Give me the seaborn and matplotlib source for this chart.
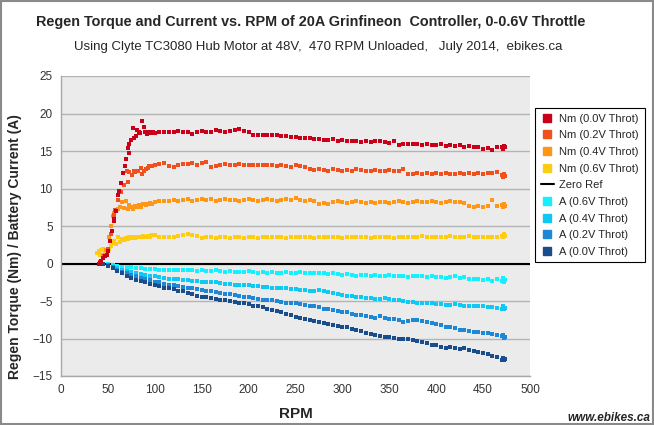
import matplotlib
matplotlib.use("Agg")
import pandas as pd
import matplotlib.pyplot as plt
import seaborn as sns
from matplotlib.lines import Line2D
from matplotlib.patches import Rectangle

# ---- data ----
rpm_grid = list(range(100, 475, 5))      # shared RPM grid for the torque plateaus
rpm_a = list(range(45, 475, 5))          # shared RPM grid for the current series
tail_rpm = [471, 472, 473]               # extra points stacked at the end

nm00_ramp_rpm = [40, 42, 43, 45, 47, 49, 50, 52, 54, 56, 57, 59, 61, 62, 64, 66, 68, 69, 71, 72,
                 73, 75, 77, 78, 80, 81, 83, 84, 86, 88, 90, 92, 94, 96, 98]
nm00_ramp = [0.0, 0.1, 0.3, 0.8, 1.0, 1.2, 1.7, 3.0, 4.4, 5.7, 6.0, 7.0, 9.2, 9.7, 10.8, 12.1, 13.0, 14.0, 15.4, 14.8,
             16.0, 16.5, 18.1, 16.8, 17.0, 17.8, 17.6, 17.4, 19.0, 18.2, 17.6, 17.3, 17.5, 17.4, 17.5]
nm00 = [17.4, 17.6, 17.5, 17.6, 17.5, 17.7, 17.6, 17.5, 17.3, 17.6, 17.7, 17.6, 17.6, 17.8, 17.7, 17.6, 17.7, 17.8, 17.9, 17.7,
        17.6, 17.2, 17.2, 17.1, 17.2, 17.1, 17.1, 17.0, 17.0, 16.9, 16.9, 16.8, 16.8, 16.7, 16.6, 16.6, 16.5, 16.5, 16.6, 16.4,
        16.5, 16.4, 16.3, 16.3, 16.2, 16.3, 16.2, 16.3, 16.4, 16.2, 16.1, 16.3, 15.8, 16.0, 15.9, 15.9, 15.9, 15.8, 15.9, 15.8,
        15.8, 15.9, 15.7, 15.8, 15.7, 15.8, 15.6, 15.7, 15.5, 15.6, 15.3, 15.4, 15.2, 15.5, 15.6]
nm00_tail = [15.3, 15.7, 15.5]

nm02_ramp_rpm = [42, 46, 50, 53, 56, 58, 61, 64, 67, 70, 71, 73, 76, 78, 79, 82, 85, 86, 88, 91, 93, 94, 97]
nm02_ramp = [0.2, 1.0, 2.0, 4.0, 6.5, 7.2, 8.5, 9.6, 10.5, 12.4, 10.9, 12.2, 11.8, 12.3, 12.2, 12.4, 12.8, 12.0, 12.3, 12.6,
             12.7, 13.0, 13.0]
nm02 = [13.1, 13.3, 13.4, 13.0, 12.9, 13.2, 13.3, 13.3, 13.4, 13.2, 13.4, 13.6, 12.9, 13.0, 13.2, 13.3, 13.2, 13.1, 13.3, 13.2,
        13.2, 13.1, 13.2, 13.1, 13.2, 13.1, 13.0, 13.1, 13.0, 12.9, 13.1, 13.0, 12.9, 12.6, 12.5, 12.6, 12.5, 12.4, 12.6, 12.5,
        12.4, 12.5, 12.4, 12.6, 12.5, 12.4, 12.4, 12.5, 12.3, 12.4, 12.5, 12.4, 12.3, 12.6, 12.0, 11.9, 12.1, 12.0, 12.1, 12.0,
        12.1, 12.0, 12.1, 12.0, 12.0, 12.1, 12.0, 12.1, 12.0, 12.1, 12.0, 12.1, 12.1, 12.2, 11.8]
nm02_tail = [11.6, 12.0, 11.7]

nm04_ramp_rpm = [45, 48, 51, 53, 55, 57, 59, 61, 63, 65, 67, 69, 71, 73, 75, 77, 79, 81, 83, 85,
                 87, 89, 91, 93, 95, 97]
nm04_ramp = [1.2, 1.8, 3.5, 5.0, 6.4, 6.8, 7.0, 7.3, 7.6, 8.2, 7.4, 8.4, 7.3, 7.8, 7.5, 7.3, 7.7, 7.6, 7.8, 7.5,
             7.9, 8.0, 7.8, 8.0, 8.1, 8.0]
nm04 = [8.2, 8.3, 8.4, 8.3, 8.5, 8.4, 8.5, 8.6, 8.4, 8.5, 8.6, 8.5, 8.6, 8.4, 8.5, 8.6, 8.5, 8.5, 8.4, 8.5,
        8.6, 8.5, 8.4, 8.5, 8.6, 8.5, 8.4, 8.5, 8.6, 8.5, 8.7, 8.5, 8.4, 8.5, 8.3, 7.9, 8.1, 8.0, 8.2, 8.3,
        8.2, 8.1, 8.2, 8.3, 8.2, 8.1, 8.2, 8.1, 8.2, 8.2, 8.1, 8.2, 8.3, 8.2, 8.1, 8.2, 8.3, 8.2, 8.2, 8.3,
        8.2, 8.1, 8.2, 8.3, 8.2, 8.2, 8.1, 7.7, 7.6, 7.7, 7.6, 7.7, 8.5, 7.7, 7.8]
nm04_tail = [7.6, 7.9, 7.7]

nm06_ramp_rpm = [38, 40, 42, 43, 45, 47, 49, 51, 53, 55, 57, 59, 61, 63, 65, 67, 69, 71, 73, 75,
                 77, 79, 81, 83, 85, 87, 89, 91, 93, 95, 97]
nm06_ramp = [1.4, 1.7, 1.2, 1.8, 2.0, 1.5, 1.8, 2.0, 2.4, 2.7, 3.0, 2.6, 3.5, 2.9, 3.3, 3.1, 3.4, 3.3, 3.5, 3.4,
             3.6, 3.4, 3.5, 3.6, 3.5, 3.7, 3.5, 3.6, 3.7, 3.6, 3.8]
nm06 = [3.8, 3.6, 3.5, 3.6, 3.6, 3.7, 3.8, 3.9, 3.8, 3.7, 3.4, 3.5, 3.5, 3.4, 3.5, 3.5, 3.4, 3.5, 3.5, 3.4,
        3.5, 3.5, 3.4, 3.5, 3.5, 3.6, 3.5, 3.5, 3.4, 3.5, 3.5, 3.6, 3.5, 3.5, 3.4, 3.5, 3.6, 3.5, 3.5, 3.5,
        3.4, 3.5, 3.5, 3.6, 3.5, 3.5, 3.4, 3.5, 3.6, 3.6, 3.5, 3.4, 3.6, 3.5, 3.6, 3.6, 3.5, 3.7, 3.6, 3.5,
        3.6, 3.5, 3.6, 3.7, 3.6, 3.5, 3.6, 3.7, 3.6, 3.5, 3.6, 3.6, 3.5, 3.6, 3.7]
nm06_tail = [3.5, 3.9, 3.7]

a00 = [0.0, -0.3, -0.6, -1.0, -1.3, -1.6, -1.9, -2.2, -2.3, -2.5,
       -2.7, -2.9, -3.0, -3.2, -3.3, -3.4, -3.6, -3.7, -3.9, -4.0,
       -4.3, -4.4, -4.5, -4.6, -4.7, -4.8, -4.9, -5.0, -5.1, -5.2,
       -5.3, -5.4, -5.6, -5.7, -5.8, -6.0, -6.2, -6.3, -6.5, -6.7,
       -6.9, -7.1, -7.2, -7.4, -7.5, -7.6, -7.8, -7.9, -8.0, -8.2,
       -8.3, -8.4, -8.5, -8.7, -8.8, -9.0, -9.2, -9.4, -9.5, -9.6,
       -9.8, -9.8, -9.9, -10.0, -10.0, -10.1, -10.2, -10.3, -10.5, -10.6,
       -10.8, -10.9, -11.1, -11.2, -11.1, -11.3, -11.4, -11.3, -11.5, -11.6,
       -11.8, -11.9, -12.1, -12.3, -12.5, -12.8]
a00_tail = [-12.6, -12.9, -12.7]

a02 = [0.0, -0.2, -0.5, -0.8, -1.1, -1.3, -1.5, -1.7, -1.9, -2.1,
       -2.2, -2.4, -2.5, -2.7, -2.8, -2.9, -3.0, -3.1, -3.2, -3.3,
       -3.4, -3.5, -3.6, -3.7, -3.8, -3.9, -4.0, -4.1, -4.2, -4.3,
       -4.4, -4.5, -4.6, -4.7, -4.8, -4.8, -4.9, -5.0, -5.1, -5.2,
       -5.3, -5.3, -5.4, -5.5, -5.6, -5.7, -5.8, -6.0, -6.1, -6.2,
       -6.3, -6.4, -6.5, -6.7, -6.8, -6.9, -7.0, -7.1, -7.2, -7.0,
       -7.3, -7.4, -7.4, -7.5, -7.8, -7.6, -7.5, -7.5, -7.7, -7.8,
       -7.9, -8.0, -8.2, -8.4, -8.5, -8.6, -8.8, -8.9, -9.0, -9.1,
       -9.1, -9.2, -9.3, -9.4, -9.5, -9.7]
a02_tail = [-9.5, -9.9, -9.8]

a04 = [0.0, -0.2, -0.4, -0.6, -0.8, -1.0, -1.1, -1.3, -1.4, -1.5,
       -1.6, -1.7, -1.8, -1.9, -2.0, -2.0, -2.1, -2.2, -2.2, -2.3,
       -2.3, -2.4, -2.4, -2.5, -2.5, -2.6, -2.7, -2.7, -2.8, -2.8,
       -2.9, -2.9, -3.0, -3.0, -3.1, -3.1, -3.2, -3.2, -3.3, -3.3,
       -3.4, -3.4, -3.5, -3.5, -3.6, -3.6, -3.5, -3.7, -3.8, -3.9,
       -4.0, -4.2, -4.3, -4.3, -4.4, -4.5, -4.6, -4.6, -4.7, -4.7,
       -4.6, -4.7, -4.8, -4.9, -5.0, -5.1, -5.1, -5.2, -5.3, -5.3,
       -5.3, -5.4, -5.4, -5.5, -5.5, -5.4, -5.5, -5.6, -5.6, -5.6,
       -5.7, -5.7, -5.8, -5.8, -5.9, -6.0]
a04_tail = [-5.7, -6.1, -5.9]

a06 = [0.0, -0.1, -0.2, -0.3, -0.4, -0.5, -0.5, -0.6, -0.6, -0.7,
       -0.7, -0.7, -0.8, -0.8, -0.8, -0.9, -0.9, -0.8, -0.9, -0.9,
       -1.0, -0.9, -1.0, -1.0, -0.9, -1.0, -1.1, -1.0, -1.1, -1.1,
       -1.1, -1.0, -1.1, -1.2, -1.1, -1.2, -1.1, -1.2, -1.2, -1.1,
       -1.2, -1.2, -1.1, -1.2, -1.3, -1.2, -1.2, -1.3, -1.4, -1.3,
       -1.4, -1.5, -1.4, -1.5, -1.6, -1.5, -1.5, -1.6, -1.5, -1.6,
       -1.6, -1.5, -1.6, -1.7, -1.6, -1.8, -1.7, -1.6, -1.7, -1.8,
       -1.7, -1.8, -1.8, -1.9, -1.8, -1.7, -1.9, -1.8, -2.0, -2.0,
       -2.1, -2.2, -2.1, -2.3, -2.1, -2.3]
a06_tail = [-1.9, -2.5, -2.2]

labels = ["Nm (0.0V Throt)", "Nm (0.2V Throt)", "Nm (0.4V Throt)", "Nm (0.6V Throt)",
          "A (0.6V Throt)", "A (0.4V Throt)", "A (0.2V Throt)", "A (0.0V Throt)"]
colors = ["#c8001a", "#f0501e", "#ff9614", "#ffcc10",
          "#14f0ff", "#10c8f4", "#1e88d6", "#1a4d8c"]


def series(name, rpm, vals):
    return pd.DataFrame({"RPM": rpm, "value": vals, "series": name})


df = pd.concat([
    series(labels[0], nm00_ramp_rpm + rpm_grid + tail_rpm, nm00_ramp + nm00 + nm00_tail),
    series(labels[1], nm02_ramp_rpm + rpm_grid + tail_rpm, nm02_ramp + nm02 + nm02_tail),
    series(labels[2], nm04_ramp_rpm + rpm_grid + tail_rpm, nm04_ramp + nm04 + nm04_tail),
    series(labels[3], nm06_ramp_rpm + rpm_grid + tail_rpm, nm06_ramp + nm06 + nm06_tail),
    series(labels[4], rpm_a + tail_rpm, a06 + a06_tail),
    series(labels[5], rpm_a + tail_rpm, a04 + a04_tail),
    series(labels[6], rpm_a + tail_rpm, a02 + a02_tail),
    series(labels[7], rpm_a + tail_rpm, a00 + a00_tail),
])

sns.set_style("whitegrid")
plt.rcParams['font.family'] = ['Liberation Sans', 'DejaVu Sans']

fig = plt.figure(figsize=(6.54, 4.25), dpi=100)
ax = fig.add_axes([61 / 654, 1 - 376 / 425, 469 / 654, 300 / 425])
ax.set_facecolor("#ebebeb")

# currents first, torque on top (red drawn last)
draw_order = [4, 5, 6, 7, 3, 2, 1, 0]
for i in draw_order:
    sns.scatterplot(data=df[df["series"] == labels[i]], x="RPM", y="value", color=colors[i],
                    marker="s", s=5, linewidth=0, ax=ax, legend=False, zorder=3)

ax.axhline(0, color="black", lw=1.5, zorder=2)

ax.set_xlim(0, 500)
ax.set_ylim(-15, 25)
ax.set_xticks(range(0, 501, 50))
ax.set_yticks(range(-15, 26, 5))
ax.grid(axis="x", visible=False)
ax.grid(axis="y", color="#b4b4b4", lw=1)
for side in ["top", "right"]:
    ax.spines[side].set_visible(False)
for side in ["left", "bottom"]:
    ax.spines[side].set_color("#a8a8a8")
    ax.spines[side].set_linewidth(1)
ax.tick_params(axis="both", direction="out", length=4, width=0.8, color="#a8a8a8",
               labelsize=8.5, labelcolor="#333333", pad=2)

ax.set_xlabel("RPM", fontsize=11, fontweight="bold", labelpad=8)
ax.set_ylabel("Regen Torque (Nm) / Battery Current (A)", fontsize=10, fontweight="bold")
ax.yaxis.set_label_coords(-0.083, 0.43)

fig.text(311 / 654, 1 - 22 / 425, "Regen Torque and Current vs. RPM of 20A Grinfineon  Controller, 0-0.6V Throttle",
         ha="center", va="center", fontsize=10.4, fontweight="bold")
fig.text(318 / 654, 1 - 47 / 425, "Using Clyte TC3080 Hub Motor at 48V,  470 RPM Unloaded,   July 2014,  ebikes.ca",
         ha="center", va="center", fontsize=9.5)
fig.text(650 / 654, 1 - 418 / 425, "www.ebikes.ca", ha="right", va="center", fontsize=8.5,
         fontweight="bold", style="italic")

# legend in the original order, Zero Ref in the middle
handles = [Line2D([], [], marker="s", ls="", color=colors[i], markersize=5.5) for i in range(4)]
handles.append(Line2D([], [], color="black", lw=1.5))
handles += [Line2D([], [], marker="s", ls="", color=colors[i], markersize=5.5) for i in range(4, 8)]
leg_labels = labels[:4] + ["Zero Ref"] + labels[4:]
leg = fig.legend(handles, leg_labels, loc="upper left", bbox_to_anchor=(535 / 654, 1 - 108 / 425),
                 fontsize=8, frameon=True, fancybox=False, framealpha=1, edgecolor="black",
                 handlelength=1.2, handletextpad=0.5, labelspacing=0.6, borderpad=0.5, borderaxespad=0)
leg.get_frame().set_linewidth(0.8)

fig.patches.append(Rectangle((0.002, 0.002), 0.996, 0.996, transform=fig.transFigure,
                             fill=False, edgecolor="#8a8a8a", lw=1.5))

fig.savefig("out.png", dpi=100)
